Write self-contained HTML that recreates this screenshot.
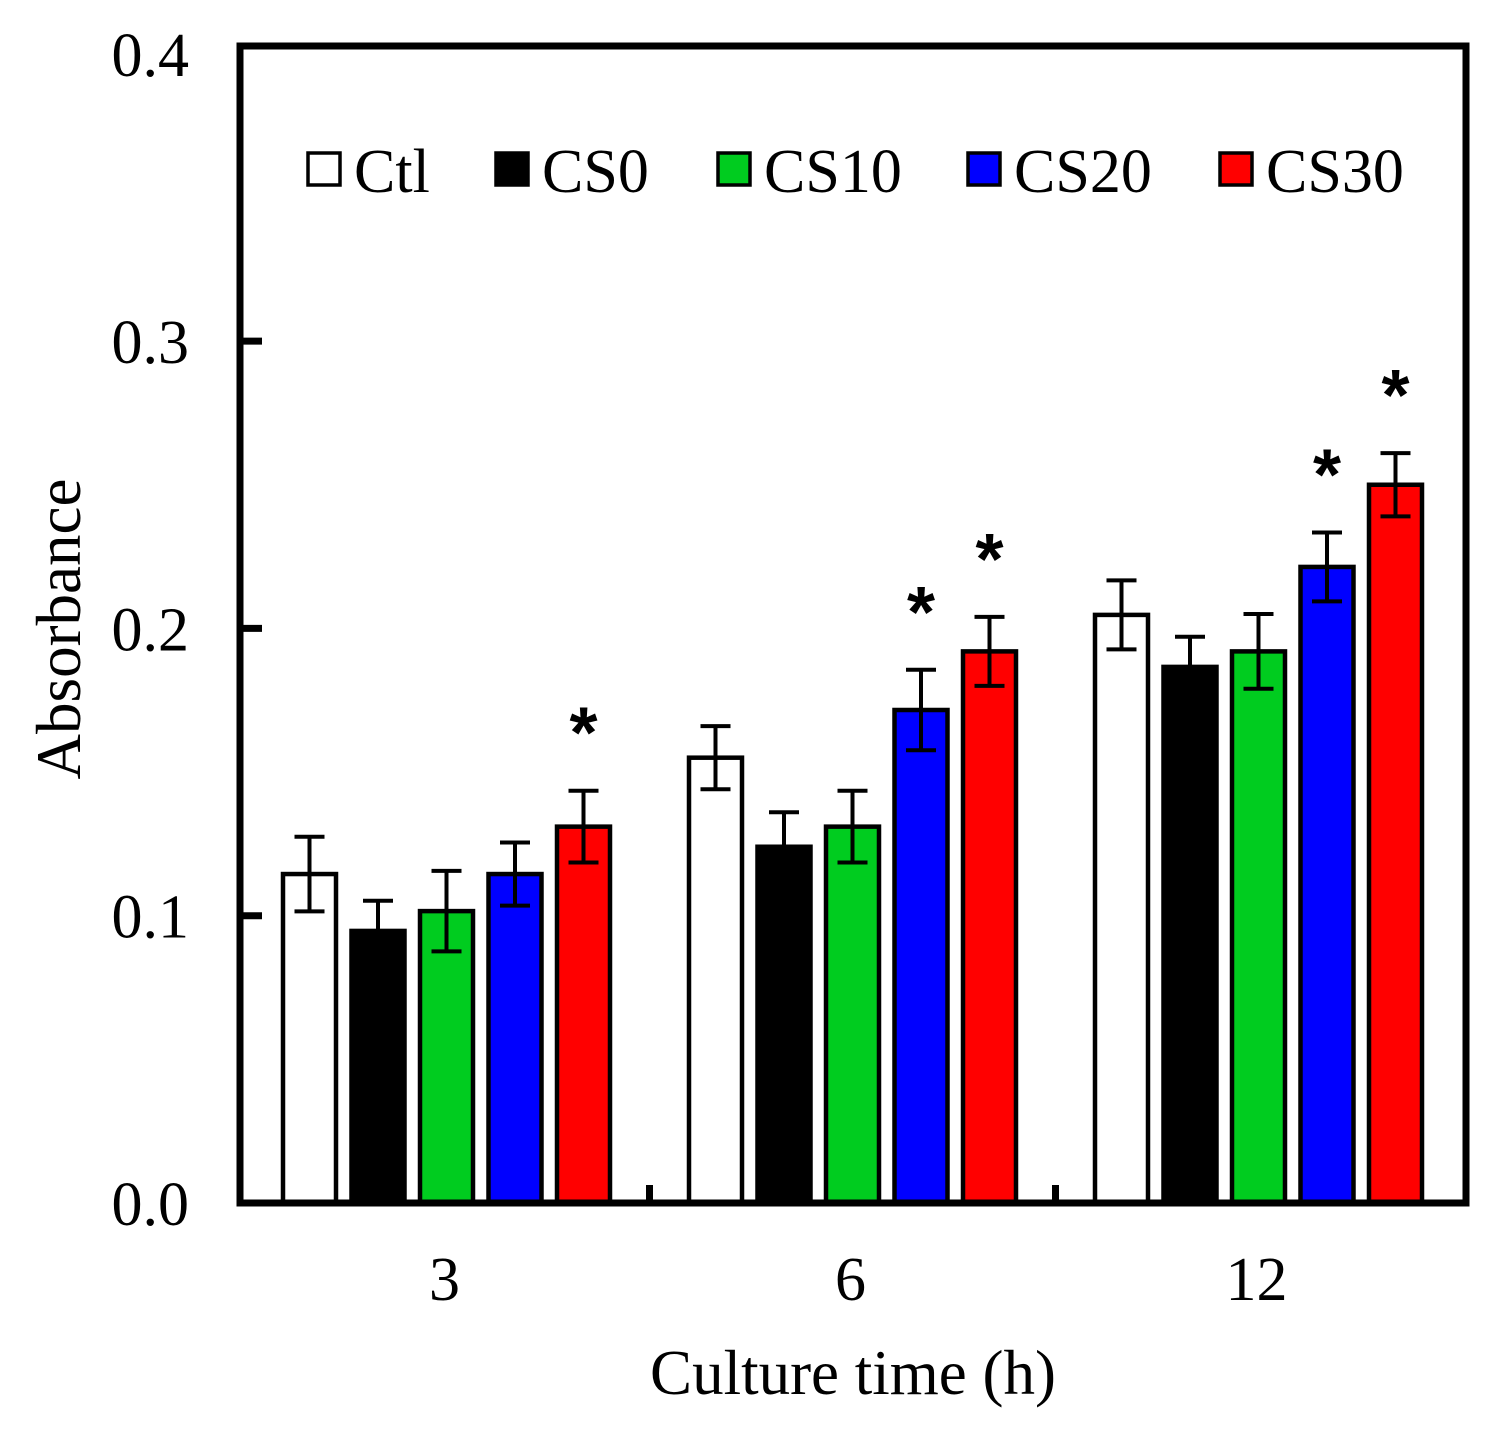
<!DOCTYPE html>
<html><head><meta charset="utf-8"><style>
html,body{margin:0;padding:0;background:#fff}
svg{display:block;font-family:"Liberation Serif",serif}
</style></head><body>
<svg id="chart" width="1492" height="1432" viewBox="0 0 1492 1432" xmlns="http://www.w3.org/2000/svg"></svg>
<script>
const categories = ["3", "6", "12"];
const seriesNames = ["Ctl", "CS0", "CS10", "CS20", "CS30"];
const seriesColors = ["#ffffff", "#000000", "#00cc1f", "#0000ff", "#ff0000"];
const ctlValues = [0.1145, 0.155, 0.2047];
const cs0Values = [0.0947, 0.124, 0.1866];
const cs10Values = [0.1016, 0.131, 0.192];
const cs20Values = [0.1145, 0.1716, 0.2214];
const cs30Values = [0.131, 0.192, 0.250];
const ctlErr = [0.013, 0.011, 0.012];
const cs0Err = [0.0105, 0.012, 0.0105];
const cs10Err = [0.014, 0.0125, 0.013];
const cs20Err = [0.011, 0.014, 0.012];
const cs30Err = [0.0125, 0.012, 0.011];
const ctlSig = [false, false, false];
const cs0Sig = [false, false, false];
const cs10Sig = [false, false, false];
const cs20Sig = [false, true, true];
const cs30Sig = [true, true, true];
const yTicks = [0.0, 0.1, 0.2, 0.3, 0.4];
const yTickLabels = ["0.0", "0.1", "0.2", "0.3", "0.4"];

const values = [ctlValues, cs0Values, cs10Values, cs20Values, cs30Values];
const errs = [ctlErr, cs0Err, cs10Err, cs20Err, cs30Err];
const sigs = [ctlSig, cs0Sig, cs10Sig, cs20Sig, cs30Sig];

const NS = "http://www.w3.org/2000/svg";
const svg = document.getElementById("chart");
function mk(tag, attrs, parent) {
  const e = document.createElementNS(NS, tag);
  for (const k in attrs) e.setAttribute(k, attrs[k]);
  (parent || svg).appendChild(e);
  return e;
}
const L = 240, R = 1466, T = 46, B = 1203;
function yScale(v) { return 1203 - v * 2873; }
const groupPitch = 406;
function groupCenter(i) { return 446.5 + groupPitch * i; }
const barW = 53, pitch = 68.5;
function barX(g, s) { return groupCenter(g) + (s - 2) * pitch - barW / 2; }

for (let s = 0; s < seriesNames.length; s++) {
  for (let g = 0; g < categories.length; g++) {
    const v = values[s][g], x = barX(g, s), cx = x + barW / 2;
    const r = mk("rect", {x: x, y: yScale(v), width: barW, height: yScale(0) - yScale(v), fill: seriesColors[s], stroke: "#000", "stroke-width": 4.5});
    
    
    const e = errs[s][g];
    const eg = mk("g", {stroke: "#000", "stroke-width": 4, fill: "none"});
    
    
    mk("line", {x1: cx, x2: cx, y1: yScale(v + e), y2: yScale(v - e)}, eg);
    mk("line", {x1: cx - 15, x2: cx + 15, y1: yScale(v + e), y2: yScale(v + e)}, eg);
    mk("line", {x1: cx - 15, x2: cx + 15, y1: yScale(v - e), y2: yScale(v - e)}, eg);
    if (sigs[s][g]) {
      const st = mk("text", {x: cx, y: yScale(v + e) - 33, "text-anchor": "middle", "font-size": 72, "font-weight": "bold", "font-family": "Liberation Sans, sans-serif"});
      st.textContent = "*";
      
      
    }
  }
}
const fr = mk("rect", {x: L, y: T, width: R - L, height: B - T, fill: "none", stroke: "#000", "stroke-width": 7});


for (let i = 0; i < yTicks.length; i++) {
  const y = yScale(yTicks[i]);
  if (i > 0 && i < yTicks.length - 1) {
    const tk = mk("line", {x1: L, x2: L + 22, y1: y, y2: y, stroke: "#000", "stroke-width": 7});
    
    
  }
  const t = mk("text", {x: 189, y: y + 22, "text-anchor": "end", "font-size": 62});
  t.textContent = yTickLabels[i];
  
  
}
for (let g = 0; g < categories.length; g++) {
  if (g > 0) {
    const x = (groupCenter(g - 1) + groupCenter(g)) / 2;
    const tk = mk("line", {x1: x, x2: x, y1: B, y2: B - 18, stroke: "#000", "stroke-width": 7});
    
    
  }
  const t = mk("text", {x: groupCenter(g) - 2, y: 1300, "text-anchor": "middle", "font-size": 62});
  t.textContent = categories[g];
  
  
}
const xt = mk("text", {x: 853, y: 1394, "text-anchor": "middle", "font-size": 63});
xt.textContent = "Culture time (h)";


const yt = mk("text", {x: 0, y: 0, "text-anchor": "middle", "font-size": 63, transform: "translate(80,629) rotate(-90)"});
yt.textContent = "Absorbance";


const legX = [308, 496, 718, 968, 1220];
for (let s = 0; s < seriesNames.length; s++) {
  const lg = mk("g", {});
  
  
  mk("rect", {x: legX[s], y: 153, width: 32, height: 32, fill: seriesColors[s], stroke: "#000", "stroke-width": 3.5}, lg);
  const t = mk("text", {x: legX[s] + 46, y: 192, "font-size": 62}, lg);
  t.textContent = seriesNames[s];
}
</script>
</body></html>
